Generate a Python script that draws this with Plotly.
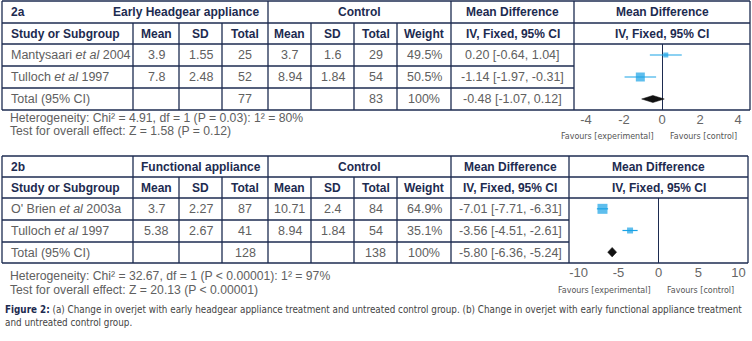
import plotly.graph_objects as go

# ---------------- data: panel 2a ----------------
studies_a = ["Mantysaari <i>et al</i> 2004", "Tulloch <i>et al</i> 1997"]
exp_mean_a = [3.9, 7.8]
exp_sd_a = [1.55, 2.48]
exp_n_a = [25, 52]
ctl_mean_a = [3.7, 8.94]
ctl_sd_a = [1.6, 1.84]
ctl_n_a = [29, 54]
weight_a = [49.5, 50.5]
md_a = [0.20, -1.14]
lo_a = [-0.64, -1.97]
hi_a = [1.04, -0.31]
total_n_a = [77, 83]
total_md_a = [-0.48, -1.07, 0.12]
het_a = ["4.91", "1", "P = 0.03", "80"]
z_a = ["1.58", "P = 0.12"]
ticks_a = [-4, -2, 0, 2, 4]

# ---------------- data: panel 2b ----------------
studies_b = ["O' Brien <i>et al</i> 2003a", "Tulloch <i>et al</i> 1997"]
exp_mean_b = [3.7, 5.38]
exp_sd_b = [2.27, 2.67]
exp_n_b = [87, 41]
ctl_mean_b = [10.71, 8.94]
ctl_sd_b = [2.4, 1.84]
ctl_n_b = [84, 54]
weight_b = [64.9, 35.1]
md_b = [-7.01, -3.56]
lo_b = [-7.71, -4.51]
hi_b = [-6.31, -2.61]
total_n_b = [128, 138]
total_md_b = [-5.80, -6.36, -5.24]
het_b = ["32.67", "1", "P < 0.00001", "97"]
z_b = ["20.13", "P < 0.00001"]
ticks_b = [-10, -5, 0, 5, 10]

caption_1 = ("(a) Change in overjet with early headgear appliance treatment and untreated control group. "
             "(b) Change in overjet with early functional appliance treatment")
caption_2 = "and untreated control group."

# ---------------- styles ----------------
W, H = 752, 341
NAVY = "#1d2b50"
GREY = "#606060"
BLUE = "#1aa3e6"
FONT = "Liberation Sans, Arial, sans-serif"
NARROW = "DejaVu Sans Condensed, Liberation Sans Narrow, sans-serif"
LW = 1.3

fig = go.Figure()
shapes = []
annotations = []


def line(x0, y0, x1, y1):
    shapes.append(dict(type="line", xref="x", yref="y", x0=x0, y0=y0, x1=x1, y1=y1,
                       line=dict(color=NAVY, width=LW)))


def text(x, y, s, anchor="center", bold=False, color=None, size=12.5, family=FONT):
    annotations.append(dict(xref="x", yref="y", x=x, y=y,
                            text=f"<b>{s}</b>" if bold else s, showarrow=False,
                            xanchor=anchor, yanchor="middle",
                            font=dict(family=family, size=size,
                                      color=color or (NAVY if bold else GREY))))


def fmt(v):
    return f"{v:g}"


def panel(rows, fl, fr, tag, group, group_split, names, em, es, en, cm, cs, cn, w,
          md, lo, hi, tot_n, tot_md, het, z, ticks, xname, yname, sizes, dia_h,
          het_y, fav_y, half_range):
    cols = [2, 133, 179, 222, 268, 311, 354, 397, 451]
    top, bot = rows[0], rows[-1]
    # outer box
    line(cols[0], top, fr, top)
    line(cols[0], bot, fr, bot)
    line(cols[0], top, cols[0], bot)
    line(fr, top, fr, bot)
    # horizontal rules
    line(cols[0], rows[1], fr, rows[1])
    line(cols[0], rows[2], fr, rows[2])
    line(cols[0], rows[3], fl, rows[3])
    line(cols[0], rows[4], fl, rows[4])
    # vertical rules
    for c in [268, 451, fl]:
        line(c, top, c, bot)
    line(133, top if group_split else rows[1], 133, bot)
    for c in [179, 222, 311, 354, 397]:
        line(c, rows[1], c, bot)

    mids = [(rows[i] + rows[i + 1]) / 2 for i in range(5)]
    ctr = [(cols[i] + cols[i + 1]) / 2 for i in range(1, 8)] + [(451 + fl) / 2, (fl + fr) / 2]

    # header row 1
    text(9, mids[0], tag, "left", True, size=12)
    if group_split:
        text((133 + 268) / 2, mids[0], group, bold=True, size=12)
    else:
        text(261, mids[0], group, "right", True, size=12)
    text((268 + 451) / 2, mids[0], "Control", bold=True, size=12)
    text(ctr[7], mids[0], "Mean Difference", bold=True, size=12)
    text(ctr[8], mids[0], "Mean Difference", bold=True, size=12)
    # header row 2
    text(9, mids[1], "Study or Subgroup", "left", True, size=12)
    for i, h in enumerate(["Mean", "SD", "Total", "Mean", "SD", "Total", "Weight",
                           "IV, Fixed, 95% CI", "IV, Fixed, 95% CI"]):
        text(ctr[i], mids[1], h, bold=True, size=12)
    # study rows
    for k in range(len(names)):
        y = mids[2 + k]
        text(9, y, names[k], "left")
        vals = [fmt(em[k]), fmt(es[k]), fmt(en[k]), fmt(cm[k]), fmt(cs[k]), fmt(cn[k]),
                f"{fmt(w[k])}%", f"{md[k]:.2f} [{lo[k]:.2f}, {hi[k]:.2f}]"]
        for i, v in enumerate(vals):
            text(ctr[i], y, v)
    # total row
    y = mids[4]
    text(9, y, "Total (95% CI)", "left")
    text(ctr[2], y, fmt(tot_n[0]))
    text(ctr[5], y, fmt(tot_n[1]))
    text(ctr[6], y, f"{fmt(sum(w))}%")
    text(ctr[7], y, f"{tot_md[0]:.2f} [{tot_md[1]:.2f}, {tot_md[2]:.2f}]")

    # stats text
    text(8, het_y[0], f"Heterogeneity: Chi² = {het[0]}, df = {het[1]} ({het[2]}): 1² = {het[3]}%",
         "left", size=12.2)
    text(8, het_y[1], f"Test for overall effect: Z = {z[0]} ({z[1]})", "left", size=12.2)

    # forest: study squares + CI
    xa = "x" + xname[5:]
    ya = "y" + yname[5:]
    fig.add_trace(go.Scatter(
        x=md, y=list(range(len(md))), xaxis=xa, yaxis=ya, mode="markers",
        marker=dict(symbol="square", size=sizes, color=BLUE, line=dict(width=0)),
        error_x=dict(type="data", symmetric=False,
                     array=[h - m for h, m in zip(hi, md)],
                     arrayminus=[m - l for m, l in zip(md, lo)],
                     width=0, thickness=1.2, color=BLUE),
        hoverinfo="skip", showlegend=False))
    # pooled diamond
    r = len(md)
    fig.add_trace(go.Scatter(
        x=[tot_md[1], tot_md[0], tot_md[2], tot_md[0], tot_md[1]],
        y=[r, r - dia_h, r, r + dia_h, r], xaxis=xa, yaxis=ya,
        mode="lines", fill="toself", fillcolor="#111111",
        line=dict(color="#111111", width=0.5), hoverinfo="skip", showlegend=False))

    fig.update_layout(**{
        xname: dict(domain=[fl / W, fr / W], anchor=ya, range=[-half_range, half_range],
                    tickvals=ticks, ticktext=[f"{t:g}" for t in ticks],
                    showgrid=False, zeroline=True, zerolinecolor=NAVY, zerolinewidth=LW,
                    showline=False, ticks="",
                    tickfont=dict(family=FONT, size=13, color="#666666"), fixedrange=True),
        yname: dict(domain=[1 - rows[5] / H, 1 - rows[2] / H], anchor=xa,
                    range=[2.5, -0.5], visible=False, fixedrange=True),
    })
    annotations.append(dict(xref=xa, yref="y", x=0, y=fav_y, xshift=-6, text="Favours [experimental]",
                            showarrow=False, xanchor="right", yanchor="middle",
                            font=dict(family=NARROW, size=8.9, color="#555555")))
    annotations.append(dict(xref=xa, yref="y", x=0, y=fav_y, xshift=6, text="Favours [control]",
                            showarrow=False, xanchor="left", yanchor="middle",
                            font=dict(family=NARROW, size=8.9, color="#555555")))


panel([1, 23, 44, 66, 88, 110], 574, 750, "2a", "Early Headgear appliance", False,
      studies_a, exp_mean_a, exp_sd_a, exp_n_a, ctl_mean_a, ctl_sd_a, ctl_n_a, weight_a,
      md_a, lo_a, hi_a, total_n_a, total_md_a, het_a, z_a, ticks_a, "xaxis2", "yaxis2",
      [5, 9], 0.16, [118, 131], 136, 4.63)
panel([156, 177, 198, 220, 242, 263], 569, 748, "2b", "Functional appliance", True,
      studies_b, exp_mean_b, exp_sd_b, exp_n_b, ctl_mean_b, ctl_sd_b, ctl_n_b, weight_b,
      md_b, lo_b, hi_b, total_n_b, total_md_b, het_b, z_b, ticks_b, "xaxis3", "yaxis3",
      [10, 6], 0.22, [276, 290], 290, 11.2)

# caption
annotations.append(dict(xref="x", yref="y", x=3, y=309, showarrow=False, xanchor="left", yanchor="middle",
                        text=f"<b><span style='color:{NAVY}'>Figure 2:</span></b> {caption_1}",
                        font=dict(family=NARROW, size=9.8, color="#444444")))
annotations.append(dict(xref="x", yref="y", x=3, y=322, showarrow=False, xanchor="left", yanchor="middle",
                        text=caption_2, font=dict(family=NARROW, size=9.8, color="#444444")))

fig.update_layout(
    width=W, height=H, margin=dict(l=0, r=0, t=0, b=0),
    paper_bgcolor="white", plot_bgcolor="rgba(0,0,0,0)",
    xaxis=dict(range=[0, W], domain=[0, 1], visible=False, fixedrange=True),
    yaxis=dict(range=[H, 0], domain=[0, 1], visible=False, fixedrange=True),
    shapes=shapes, annotations=annotations, showlegend=False,
)

fig.write_html("out.html", config={"displayModeBar": False},
               post_script="document.body.style.margin='0px';document.body.style.overflow='hidden';")
